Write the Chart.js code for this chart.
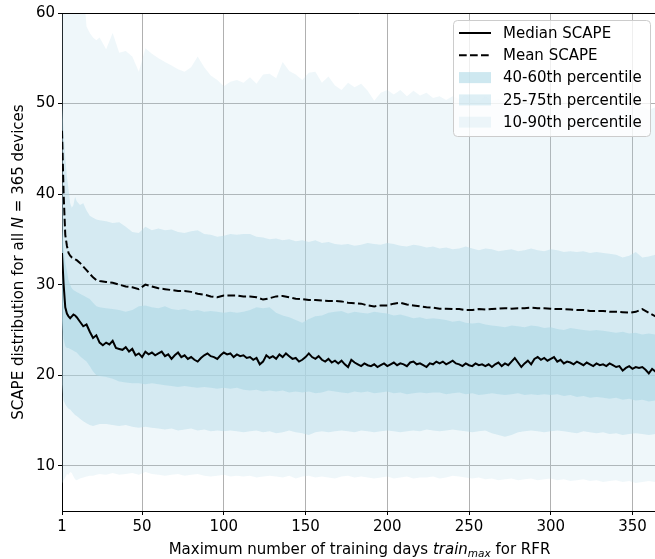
<!DOCTYPE html>
<html>
<head>
<meta charset="utf-8">
<title>SCAPE vs training days</title>
<script src="https://cdn.jsdelivr.net/npm/chart.js@4.4.1/dist/chart.umd.min.js"></script>
<style>
    html, body { margin: 0; padding: 0; background: #fff; overflow: hidden; }
    canvas { display: block; }
</style>
</head>
<body>
<canvas id="scapeChart" width="660" height="559"></canvas>
<script>
// x values for the percentile bands and the mean
const days = [
    1, 2, 3, 4, 5, 6, 7, 8, 9, 10, 12, 14, 16, 18, 20, 22,
    24, 28, 32, 36, 40, 44, 48, 52, 56, 60,
    64, 68, 72, 76, 80, 84, 88, 92, 96, 100,
    104, 108, 112, 116, 120, 124, 128, 132, 136, 140,
    144, 148, 152, 156, 160, 164, 168, 172, 176, 180,
    184, 188, 192, 196, 200, 204, 208, 212, 216, 220,
    224, 228, 232, 236, 240, 244, 248, 252, 256, 260,
    264, 268, 272, 276, 280, 284, 288, 292, 296, 300,
    304, 308, 312, 316, 320, 324, 328, 332, 336, 340,
    344, 348, 352, 356, 360, 364, 365
];

// finer x values for the median line
const lineDays = [
    1, 2, 3, 4, 5, 6, 7, 8, 9, 10,
    12, 14, 16, 18, 20, 22, 24, 26, 28, 30,
    32, 34, 36, 38, 40, 42, 44, 46, 48, 50,
    52, 54, 56, 58, 60, 62, 64, 66, 68, 70,
    72, 74, 76, 78, 80, 82, 84, 86, 88, 90,
    92, 94, 96, 98, 100, 102, 104, 106, 108, 110,
    112, 114, 116, 118, 120, 122, 124, 126, 128, 130,
    132, 134, 136, 138, 140, 142, 144, 146, 148, 150,
    152, 154, 156, 158, 160, 162, 164, 166, 168, 170,
    172, 174, 176, 178, 180, 182, 184, 186, 188, 190,
    192, 194, 196, 198, 200, 202, 204, 206, 208, 210,
    212, 214, 216, 218, 220, 222, 224, 226, 228, 230,
    232, 234, 236, 238, 240, 242, 244, 246, 248, 250,
    252, 254, 256, 258, 260, 262, 264, 266, 268, 270,
    272, 274, 276, 278, 280, 282, 284, 286, 288, 290,
    292, 294, 296, 298, 300, 302, 304, 306, 308, 310,
    312, 314, 316, 318, 320, 322, 324, 326, 328, 330,
    332, 334, 336, 338, 340, 342, 344, 346, 348, 350,
    352, 354, 356, 358, 360, 362, 364, 365
];

const medianScape = [
    33.5, 30.0, 27.5, 26.8, 26.5, 26.3, 26.5, 26.7, 26.6, 26.4,
    25.9, 25.4, 25.6, 24.8, 24.1, 24.4, 23.6, 23.3, 23.6, 23.4,
    23.8, 23.0, 22.9, 22.8, 23.1, 22.6, 22.9, 22.2, 22.4, 22.0,
    22.6, 22.3, 22.5, 22.2, 22.4, 22.6, 22.1, 22.3, 21.8, 22.2,
    22.5, 22.0, 22.2, 21.8, 22.0, 21.7, 21.5, 21.9, 22.2, 22.4,
    22.1, 22.0, 21.8, 22.2, 22.5, 22.3, 22.4, 22.0, 22.3, 22.1,
    22.2, 21.9, 22.0, 21.7, 21.9, 21.2, 21.5, 22.2, 21.9, 22.1,
    21.8, 22.3, 22.0, 22.4, 22.1, 21.8, 21.9, 21.5, 21.7, 22.0,
    22.4, 22.0, 21.8, 22.1, 21.7, 21.5, 21.8, 21.4, 21.6, 21.3,
    21.6, 21.2, 20.9, 21.7, 21.4, 21.2, 21.0, 21.3, 21.1, 21.0,
    21.2, 20.9, 21.1, 21.3, 21.0, 21.2, 21.4, 21.1, 21.3, 21.2,
    21.0, 21.4, 21.5, 21.2, 21.3, 21.1, 20.9, 21.3, 21.2, 21.5,
    21.3, 21.5, 21.2, 21.4, 21.6, 21.3, 21.2, 21.0, 21.3, 21.1,
    21.0, 21.3, 21.1, 21.2, 21.0, 21.2, 20.9, 21.2, 21.4, 21.0,
    21.3, 21.1, 21.5, 21.9, 21.4, 20.9, 21.3, 21.6, 21.2, 21.8,
    22.0, 21.7, 21.9, 21.6, 21.8, 22.0, 21.5, 21.7, 21.3, 21.5,
    21.4, 21.2, 21.5, 21.3, 21.1, 21.4, 21.2, 21.0, 21.3, 21.1,
    21.2, 21.0, 21.3, 21.1, 20.9, 21.0, 20.5, 20.8, 21.0, 20.7,
    20.9, 20.8, 20.9, 20.6, 20.2, 20.7, 20.4, 20.5
];

const meanScape = [
    47.0, 40.0, 35.5, 34.3, 33.5, 33.2, 33.0, 32.9, 32.8, 32.7, 32.4, 32.0, 31.6, 31.2, 30.8, 30.5,
    30.4, 30.3, 30.2, 30.0, 29.8, 29.7, 29.5, 30.0, 29.8, 29.6,
    29.5, 29.4, 29.3, 29.3, 29.2, 29.0, 28.9, 28.7, 28.6, 28.8,
    28.8, 28.8, 28.7, 28.7, 28.6, 28.35, 28.5, 28.7, 28.75, 28.6,
    28.45, 28.4, 28.3, 28.3, 28.25, 28.2, 28.2, 28.15, 28.0, 27.95,
    27.9, 27.7, 27.6, 27.7, 27.7, 27.9, 28.0, 27.8, 27.7, 27.6,
    27.5, 27.45, 27.35, 27.35, 27.3, 27.3, 27.2, 27.2, 27.3, 27.25,
    27.3, 27.35, 27.4, 27.35, 27.4, 27.4, 27.45, 27.4, 27.4, 27.35,
    27.3, 27.3, 27.25, 27.2, 27.2, 27.1, 27.1, 27.1, 27.0, 27.0,
    26.95, 26.9, 27.0, 27.3, 26.9, 26.5, 26.5
];

const p90 = [
    66, 66, 66, 66, 66, 66, 66, 66, 66, 66, 66, 63, 58.5, 57.8, 57.3, 57.0,
    57.3, 56.0, 57.8, 55.6, 55.8, 55.2, 53.5, 56.1, 55.5, 55.0,
    54.6, 54.2, 53.8, 53.5, 54.0, 55.2, 54.0, 53.1, 52.6, 51.9,
    52.4, 52.6, 52.3, 52.9, 52.2, 53.2, 53.3, 52.8, 54.6, 53.6,
    53.2, 52.6, 53.4, 53.5, 52.3, 53.0, 52.0, 51.5, 52.3, 51.8,
    52.2, 51.4, 50.3, 51.2, 51.5, 51.0, 51.5, 50.8, 51.4, 50.9,
    51.2, 50.6, 50.8, 50.4, 50.8, 50.5, 51.0, 50.4, 50.2, 50.8,
    50.3, 50.5, 50.1, 50.7, 50.2, 50.6, 50.0, 50.4, 50.1, 50.5,
    50.0, 50.3, 49.9, 50.2, 49.8, 50.1, 49.7, 50.0, 49.6, 49.9,
    49.5, 49.8, 49.4, 49.7, 49.3, 49.6, 49.5
];

const p75 = [
    50, 47, 44, 42, 40.5, 39.0, 38.5, 38.8, 39.7, 39.2, 38.8, 39.0, 38.2, 37.6, 37.4, 37.2,
    37.1, 37.0, 36.8, 36.9, 36.4, 35.8, 35.7, 36.4, 36.0, 36.2,
    36.0, 36.1, 35.8, 35.7, 35.9, 36.0, 35.6, 35.5, 35.3, 35.4,
    35.6, 35.5, 35.6, 35.6, 35.3, 35.2, 35.0, 35.1, 34.9, 35.0,
    34.8, 34.9, 34.7, 34.9, 34.6, 34.7, 34.5, 34.4, 34.5, 34.3,
    34.4, 34.6, 34.5, 34.4, 34.6, 34.5, 34.3, 34.2, 34.4, 34.3,
    34.1, 34.2, 34.0, 34.1, 33.9, 34.0, 34.2, 34.0, 33.8, 34.0,
    33.9, 33.7, 33.8, 33.9, 33.7, 33.8, 34.0, 33.8, 33.7, 33.9,
    33.8, 33.6, 33.7, 33.6, 33.7, 33.5, 33.6, 33.5, 33.4, 33.3,
    33.0, 33.2, 33.6, 33.0, 33.1, 33.3, 33.2
];

const p60 = [
    36, 34, 32.5, 31.5, 30.5, 30.0, 29.6, 29.4, 29.3, 29.2, 29.0, 28.8, 28.6, 28.4, 28.0, 27.6,
    27.5, 27.4, 27.3, 27.2, 27.0, 27.2, 27.6, 27.7, 27.5, 27.4,
    27.6, 27.3, 27.2, 27.3, 27.1, 27.2, 27.0, 27.1, 27.0, 26.9,
    27.0, 26.9, 27.0, 27.2, 27.5, 27.4, 27.5, 26.9, 26.6, 26.4,
    26.1, 25.8, 26.2, 26.5, 26.6, 26.9, 27.0, 27.1, 26.8, 27.0,
    26.9, 26.8, 27.0, 26.9, 26.8, 26.6, 26.7, 26.5, 26.3, 26.4,
    26.2, 26.3, 26.2, 26.1, 25.9, 26.0, 25.8, 25.7, 25.8, 25.6,
    25.5, 25.4, 25.3, 25.5, 25.4, 25.3, 25.5, 25.4, 25.2, 25.3,
    25.1, 25.0, 25.2, 25.1, 25.0, 24.9, 25.0, 24.9, 24.8, 24.7,
    24.8, 24.6, 24.7, 24.5, 24.6, 24.5, 24.5
];

const p40 = [
    26, 24, 23.2, 23.0, 23.0, 22.9, 22.8, 22.7, 22.6, 22.5, 22.1, 21.8, 21.5, 21.0, 20.4, 20.0,
    19.9, 19.8, 19.6, 19.3, 19.2, 19.1, 19.1, 19.0, 19.1, 19.0,
    18.9, 18.8, 18.7, 18.8, 18.7, 18.6, 18.7, 18.6, 18.5, 18.6,
    18.5, 18.6, 18.4, 18.3, 18.4, 18.2, 18.3, 18.2, 18.3, 18.1,
    18.2, 18.1, 18.2, 18.0, 18.1, 18.3, 18.2, 18.1, 18.0, 18.2,
    18.1, 18.2, 18.0, 18.1, 18.2, 18.0, 18.1, 17.9, 18.0, 18.1,
    18.0, 18.1, 18.1, 17.9, 18.0, 18.1, 17.9, 18.0, 17.8, 17.9,
    18.0, 17.9, 17.8, 17.9, 18.0, 17.8, 17.9, 17.8, 17.9, 17.8,
    17.9, 17.7, 17.8, 17.6, 17.7, 17.5, 17.6, 17.5, 17.4, 17.5,
    17.3, 17.4, 17.2, 17.3, 17.1, 17.2, 17.2
];

const p25 = [
    19.0, 17.2, 16.8, 16.5, 16.3, 16.2, 16.0, 15.8, 15.6, 15.5, 15.2, 14.9, 14.7, 14.5, 14.4, 14.5,
    14.6, 14.6, 14.5, 14.4, 14.5, 14.3, 14.2, 14.3, 14.2, 14.1,
    14.0, 14.1, 13.9, 14.0, 14.1, 13.9, 14.0, 13.8, 13.9, 13.8,
    13.9, 13.8, 13.7, 13.8, 13.9, 13.7, 13.8, 13.6, 13.7, 13.9,
    13.7, 13.6, 13.4, 13.7, 13.8, 13.7, 13.8, 13.9, 13.8, 13.7,
    13.9, 13.8, 13.7, 13.8, 13.9, 13.8, 13.7, 13.8, 13.9, 13.8,
    14.0, 13.9, 13.8, 13.9, 14.0, 13.9, 13.8, 13.7, 13.8, 13.9,
    13.6, 13.4, 13.2, 13.4, 13.7, 13.8, 13.9, 13.8, 13.7, 13.8,
    13.9, 13.8, 13.7, 13.6, 13.8, 13.7, 13.6, 13.7, 13.5, 13.6,
    13.4, 13.5, 13.6, 13.5, 13.4, 13.5, 13.5
];

const p10 = [
    8.0, 8.4, 8.7, 9.1, 9.0, 9.3, 9.2, 8.8, 8.5, 8.4, 8.6, 8.7, 8.8, 8.9, 8.9, 9.0,
    9.1, 9.0, 9.2, 9.0, 9.1, 9.2, 9.0, 9.3, 9.1, 9.0,
    8.9, 9.0, 9.1, 8.9, 9.0, 9.1, 8.9, 8.8, 8.9, 9.0,
    8.8, 8.9, 8.8, 8.9, 8.7, 8.8, 8.9, 8.8, 8.7, 8.9,
    8.6, 8.8, 8.9, 8.7, 8.8, 8.7, 8.6, 8.8, 8.9, 8.7,
    8.8, 8.7, 8.6, 8.7, 8.8, 8.6, 8.7, 8.8, 8.6, 8.7,
    8.7, 8.8, 8.6, 8.7, 8.9, 8.8, 8.7, 8.6, 8.7, 8.5,
    8.6, 8.4, 8.5, 8.6, 8.4, 8.5, 8.6, 8.4, 8.5, 8.6,
    8.4, 8.5, 8.3, 8.4, 8.5, 8.3, 8.4, 8.2, 8.3, 8.4,
    8.2, 8.3, 8.1, 8.2, 8.3, 8.2, 8.2
];

const xTicks = [1, 50, 100, 150, 200, 250, 300, 350];
const yTicks = [10, 20, 30, 40, 50, 60];

const FONT = "'DejaVu Sans', sans-serif";
const FONT_SIZE = 15;
const band = a => `rgba(173, 216, 230, ${a})`;
const MEAN_DASH = [7.7, 3.3];

function toPoints(xs, values) {
    return xs.map((d, i) => ({ x: d, y: values[i] }));
}

function bandEdge(label, values, fill, alpha) {
    return {
        label: label,
        data: toPoints(days, values),
        borderWidth: 0,
        borderColor: 'transparent',
        backgroundColor: band(alpha || 0),
        pointRadius: 0,
        fill: fill
    };
}

// draw a run of text pieces (some italic / subscript) centred on x
function drawRuns(ctx, runs, cx, baseline) {
    let total = 0;
    runs.forEach(r => {
        ctx.font = r.font;
        r.w = ctx.measureText(r.text).width;
        total += r.w;
    });
    let x = cx - total / 2;
    ctx.textAlign = 'left';
    ctx.textBaseline = 'alphabetic';
    runs.forEach(r => {
        ctx.font = r.font;
        ctx.fillText(r.text, x, baseline + (r.dy || 0));
        x += r.w;
    });
}

const legendItems = [
    { label: 'Median SCAPE', kind: 'line', dash: [] },
    { label: 'Mean SCAPE', kind: 'line', dash: MEAN_DASH },
    { label: '40-60th percentile', kind: 'patch', alpha: 0.6 },
    { label: '25-75th percentile', kind: 'patch', alpha: 0.4 },
    { label: '10-90th percentile', kind: 'patch', alpha: 0.2 }
];

const decorations = {
    id: 'decorations',
    afterDraw(chart) {
        const ctx = chart.ctx;
        const area = chart.chartArea;
        const normal = `${FONT_SIZE}px ${FONT}`;
        const italic = `italic ${FONT_SIZE}px ${FONT}`;

        ctx.save();
        // top spine
        ctx.strokeStyle = '#000';
        ctx.lineWidth = 1;
        ctx.beginPath();
        ctx.moveTo(area.left, Math.round(area.top) + 0.5);
        ctx.lineTo(area.right, Math.round(area.top) + 0.5);
        ctx.stroke();

        // axis titles
        ctx.fillStyle = '#000';
        drawRuns(ctx, [
            { text: 'Maximum number of training days ', font: normal },
            { text: 'train', font: italic },
            { text: 'max', font: `italic 10.5px ${FONT}`, dy: 3 },
            { text: ' for RFR', font: normal }
        ], (area.left + area.right) / 2, 554);

        ctx.save();
        ctx.translate(23, (area.top + area.bottom) / 2);
        ctx.rotate(-Math.PI / 2);
        drawRuns(ctx, [
            { text: 'SCAPE distribution for all ', font: normal },
            { text: 'N', font: italic },
            { text: ' = 365 devices', font: normal }
        ], 0, 0);
        ctx.restore();

        // legend box
        const w = 197, h = 116;
        const x0 = area.right - 7 - w;
        const y0 = area.top + 7;
        ctx.beginPath();
        ctx.roundRect(x0 + 0.5, y0 + 0.5, w, h, 4);
        ctx.fillStyle = 'rgba(255, 255, 255, 0.8)';
        ctx.fill();
        ctx.strokeStyle = '#cccccc';
        ctx.lineWidth = 1;
        ctx.stroke();

        legendItems.forEach((item, i) => {
            const cy = y0 + 13 + i * 22.3;
            const hx0 = x0 + 6, hx1 = x0 + 38;
            if (item.kind === 'line') {
                ctx.strokeStyle = '#000';
                ctx.lineWidth = 2;
                ctx.setLineDash(item.dash);
                ctx.beginPath();
                ctx.moveTo(hx0, cy);
                ctx.lineTo(hx1, cy);
                ctx.stroke();
                ctx.setLineDash([]);
            } else {
                ctx.fillStyle = band(item.alpha);
                ctx.fillRect(hx0, cy - 5.5, hx1 - hx0, 11);
            }
            ctx.fillStyle = '#000';
            ctx.font = normal;
            ctx.textAlign = 'left';
            ctx.textBaseline = 'middle';
            ctx.fillText(item.label, x0 + 50, cy + 1);
        });
        ctx.restore();
    }
};

const tickFont = { family: FONT, size: FONT_SIZE };

new Chart(document.getElementById('scapeChart'), {
    type: 'line',
    data: {
        datasets: [
            {
                label: 'Median SCAPE',
                data: toPoints(lineDays, medianScape),
                borderColor: '#000',
                borderWidth: 2,
                pointRadius: 0,
                fill: false
            },
            {
                label: 'Mean SCAPE',
                data: toPoints(days, meanScape),
                borderColor: '#000',
                borderWidth: 2,
                borderDash: MEAN_DASH,
                pointRadius: 0,
                fill: false
            },
            bandEdge('60th', p60, '+1', 0.6),
            bandEdge('40th', p40, false),
            bandEdge('75th', p75, '+1', 0.4),
            bandEdge('25th', p25, false),
            bandEdge('90th', p90, '+1', 0.2),
            bandEdge('10th', p10, false)
        ]
    },
    options: {
        responsive: false,
        animation: false,
        layout: { padding: { left: 0, top: 13, right: 3, bottom: 0 } },
        elements: { line: { tension: 0 } },
        plugins: {
            legend: { display: false },
            tooltip: { enabled: false }
        },
        scales: {
            x: {
                type: 'linear',
                min: 1,
                max: 365,
                afterBuildTicks: s => { s.ticks = xTicks.map(v => ({ value: v })); },
                afterFit: s => { s.height = 48; },
                ticks: { font: tickFont, color: '#000', padding: 3, maxRotation: 0, autoSkip: false },
                grid: { color: '#b0b0b0', lineWidth: 1, tickColor: '#000', tickLength: 4 },
                border: { color: '#000', width: 1 }
            },
            y: {
                min: 5,
                max: 60,
                afterBuildTicks: s => { s.ticks = yTicks.map(v => ({ value: v })); },
                afterFit: s => { s.width = 62; },
                ticks: { font: tickFont, color: '#000', padding: 3 },
                grid: { color: '#b0b0b0', lineWidth: 1, tickColor: '#000', tickLength: 4 },
                border: { color: '#000', width: 1 }
            }
        }
    },
    plugins: [decorations]
});
</script>
</body>
</html>
